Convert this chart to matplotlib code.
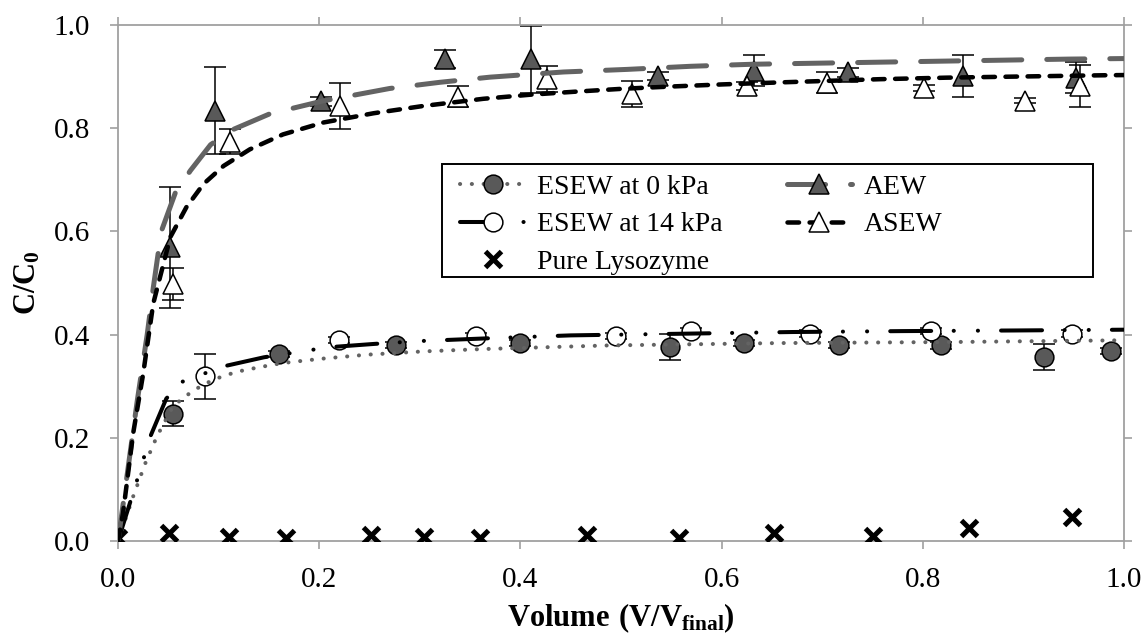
import matplotlib
matplotlib.use("Agg")
import matplotlib.pyplot as plt
from matplotlib.lines import Line2D
from matplotlib.patches import Rectangle

plt.rcParams['font.family'] = ['Liberation Serif', 'DejaVu Serif']
plt.rcParams['mathtext.fontset'] = 'custom'
plt.rcParams['mathtext.rm'] = 'Liberation Serif'
plt.rcParams['mathtext.bf'] = 'Liberation Serif:bold'
plt.rcParams['lines.scale_dashes'] = False

# ---- measured data ----
esew0_x = [0.055, 0.160, 0.276, 0.400, 0.549, 0.622, 0.717, 0.818, 0.920, 0.987]
esew0_y = [0.247, 0.362, 0.380, 0.384, 0.376, 0.384, 0.380, 0.379, 0.357, 0.368]
esew0_err = [0.024, 0.006, 0.006, 0.006, 0.025, 0.006, 0.006, 0.006, 0.025, 0.006]

esew14_x = [0.086, 0.220, 0.356, 0.495, 0.570, 0.688, 0.808, 0.948]
esew14_y = [0.319, 0.390, 0.398, 0.398, 0.407, 0.402, 0.407, 0.402]
esew14_err = [0.043, 0.006, 0.006, 0.006, 0.006, 0.006, 0.006, 0.006]

aew_x = [0.052, 0.096, 0.202, 0.325, 0.411, 0.537, 0.632, 0.726, 0.840, 0.952]
aew_y = [0.569, 0.834, 0.852, 0.934, 0.934, 0.901, 0.911, 0.908, 0.901, 0.898]
aew_err = [0.117, 0.084, 0.008, 0.017, 0.065, 0.008, 0.030, 0.008, 0.040, 0.030]

asew_x = [0.055, 0.111, 0.221, 0.338, 0.426, 0.511, 0.625, 0.705, 0.801, 0.902, 0.956]
asew_y = [0.498, 0.774, 0.843, 0.861, 0.895, 0.867, 0.882, 0.888, 0.878, 0.853, 0.882]
asew_err = [0.031, 0.024, 0.045, 0.020, 0.025, 0.025, 0.008, 0.020, 0.005, 0.005, 0.040]

lys_x = [0.0, 0.051, 0.110, 0.167, 0.251, 0.304, 0.360, 0.466, 0.558, 0.652, 0.750, 0.846, 0.948]
lys_y = [0.005, 0.015, 0.008, 0.005, 0.012, 0.008, 0.005, 0.012, 0.005, 0.015, 0.010, 0.025, 0.047]

# ---- fitted model curves ----
fit_esew0_x = [0, 0.015, 0.027, 0.037, 0.042, 0.055, 0.075, 0.095, 0.118, 0.141, 0.164,
               0.201, 0.247, 0.304, 0.363, 0.487, 0.657, 0.827, 1.0]
fit_esew0_y = [0, 0.086, 0.150, 0.195, 0.215, 0.262, 0.292, 0.313, 0.328, 0.337, 0.345,
               0.353, 0.361, 0.3675, 0.372, 0.379, 0.3836, 0.3856, 0.389]

fit_esew14_x = [0, 0.0185, 0.025, 0.032, 0.048, 0.063, 0.085, 0.105, 0.145, 0.168, 0.191,
                0.213, 0.255, 0.300, 0.370, 0.450, 0.560, 0.670, 0.780, 0.890, 1.0]
fit_esew14_y = [0, 0.115, 0.157, 0.202, 0.276, 0.308, 0.324, 0.3385, 0.356, 0.363, 0.370,
                0.376, 0.382, 0.3875, 0.393, 0.3985, 0.4017, 0.405, 0.4068, 0.408, 0.4095]

fit_aew_x = [0, 0.005, 0.019, 0.029, 0.035, 0.043, 0.057, 0.072, 0.092, 0.115, 0.151,
             0.204, 0.270, 0.320, 0.370, 0.443, 0.506, 0.569, 0.631, 0.694, 0.757, 0.820,
             0.883, 0.946, 1.0]
fit_aew_y = [0, 0.07, 0.27, 0.40, 0.49, 0.60, 0.675, 0.718, 0.768, 0.798, 0.828,
             0.853, 0.877, 0.889, 0.899, 0.909, 0.914, 0.920, 0.924, 0.926, 0.928, 0.930,
             0.932, 0.934, 0.935]

fit_asew_x = [0, 0.005, 0.015, 0.025, 0.035, 0.052, 0.068, 0.085, 0.105, 0.131, 0.164,
              0.204, 0.254, 0.303, 0.363, 0.410, 0.456, 0.502, 0.552, 0.602, 0.661, 0.757,
              0.824, 0.890, 0.979, 1.0]
fit_asew_y = [0, 0.054, 0.208, 0.324, 0.46, 0.589, 0.647, 0.692, 0.727, 0.759, 0.788,
              0.811, 0.829, 0.843, 0.857, 0.865, 0.871, 0.8765, 0.881, 0.885, 0.889, 0.895,
              0.898, 0.900, 0.9026, 0.903]

x_ticks = [0.0, 0.2, 0.4, 0.6, 0.8, 1.0]
y_ticks = [0.0, 0.2, 0.4, 0.6, 0.8, 1.0]

# ---- styles ----
DARK = '#595959'
GREY_LINE = '#636363'
AXIS_GREY = '#a0a0a0'
MS = 13.5
EB = dict(ecolor='black', elinewidth=1.1, capsize=8, capthick=1.1, linestyle='none', zorder=2)

fig = plt.figure(figsize=(11.48, 6.40), dpi=100)
ax = fig.add_axes([0.1028, 0.1547, 0.8763, 0.8062])

# error bars and markers
ax.errorbar(esew0_x, esew0_y, yerr=esew0_err, **EB)
ax.errorbar(esew14_x, esew14_y, yerr=esew14_err, **EB)
ax.errorbar(aew_x, aew_y, yerr=aew_err, **EB)
ax.errorbar(asew_x, asew_y, yerr=asew_err, **EB)

ax.plot(esew0_x, esew0_y, 'o', ms=MS, mfc=DARK, mec='black', mew=1.1, zorder=3)
ax.plot(esew14_x, esew14_y, 'o', ms=MS, mfc='white', mec='black', mew=1.1, zorder=3)
ax.plot(aew_x, aew_y, '^', ms=MS + 1, mfc=DARK, mec='black', mew=1.1, zorder=3)
ax.plot(asew_x, asew_y, '^', ms=MS + 1, mfc='white', mec='black', mew=1.1, zorder=3)
ax.plot(lys_x, lys_y, 'x', ms=12, mec='black', mew=3.6, zorder=3)

# fitted curves
dot_style = dict(color=GREY_LINE, lw=2.9, dashes=(0.1, 8.4), dash_capstyle='round')
dashdotdot_style = dict(color='black', lw=2.9, dashes=(29.5, 16.2, 0.1, 17.3, 0.1, 16.6),
                        dash_capstyle='round')
longdash_style = dict(color=GREY_LINE, lw=3.6, dashes=(27.4, 18.0), dash_capstyle='round')
shortdash_style = dict(color='black', lw=3.25, dashes=(8.3, 7.6), dash_capstyle='round')

ax.plot(fit_esew0_x, fit_esew0_y, zorder=4, **dot_style)
ax.plot(fit_esew14_x, fit_esew14_y, zorder=4, **dashdotdot_style)
ax.plot(fit_aew_x, fit_aew_y, zorder=4, **longdash_style)
ax.plot(fit_asew_x, fit_asew_y, zorder=4, **shortdash_style)

# axes
ax.set_xlim(0, 1.0)
ax.set_ylim(0, 1.0)
ax.set_xticks(x_ticks)
ax.set_yticks(y_ticks)
ax.set_xticklabels([f'{v:.1f}' for v in x_ticks])
ax.set_yticklabels([f'{v:.1f}' for v in y_ticks])
for s in ax.spines.values():
    s.set_color(AXIS_GREY)
    s.set_linewidth(1.3)
ax.tick_params(direction='out', top=True, right=True, length=6, width=1.2,
               color=AXIS_GREY, labelsize=21, pad=13)
ax.tick_params(axis='y', pad=14)

ax.set_xlabel(r'$\mathbf{Volume\ (V/V_{final})}$', fontsize=22, labelpad=6)
ax.set_ylabel(r'$\mathbf{C/C_{0}}$', fontsize=22, labelpad=8)

# legend box (drawn separately so it can span the wide frame)
box_x0, box_y0, box_x1, box_y1 = 0.322, 0.5116, 0.969, 0.7306
ax.add_patch(Rectangle((box_x0, box_y0), box_x1 - box_x0, box_y1 - box_y0,
                       transform=ax.transAxes, facecolor='white', edgecolor='black',
                       linewidth=1.4, zorder=5))

handles = [
    Line2D([], [], marker='o', ms=MS, mfc=DARK, mec='black', mew=1.1, **dot_style),
    Line2D([], [], marker='o', ms=MS, mfc='white', mec='black', mew=1.1, **dashdotdot_style),
    Line2D([], [], marker='x', ms=12, mec='black', mew=3.6, linestyle='none'),
    Line2D([], [], marker='^', ms=MS + 1, mfc=DARK, mec='black', mew=1.1, **longdash_style),
    Line2D([], [], marker='^', ms=MS + 1, mfc='white', mec='black', mew=1.1, **shortdash_style),
]
labels = ['ESEW at 0 kPa', 'ESEW at 14 kPa', 'Pure Lysozyme', 'AEW', 'ASEW']
leg = ax.legend(handles, labels, ncol=2, loc='upper left',
                bbox_to_anchor=(box_x0 + 0.010, box_y1 - 0.004),
                borderaxespad=0, fontsize=20, frameon=False,
                handlelength=2.35, handletextpad=0.42,
                columnspacing=2.3, labelspacing=0.43, borderpad=0.3, numpoints=1)
leg.set_zorder(6)

fig.savefig('out.png', dpi=100, facecolor='white')
